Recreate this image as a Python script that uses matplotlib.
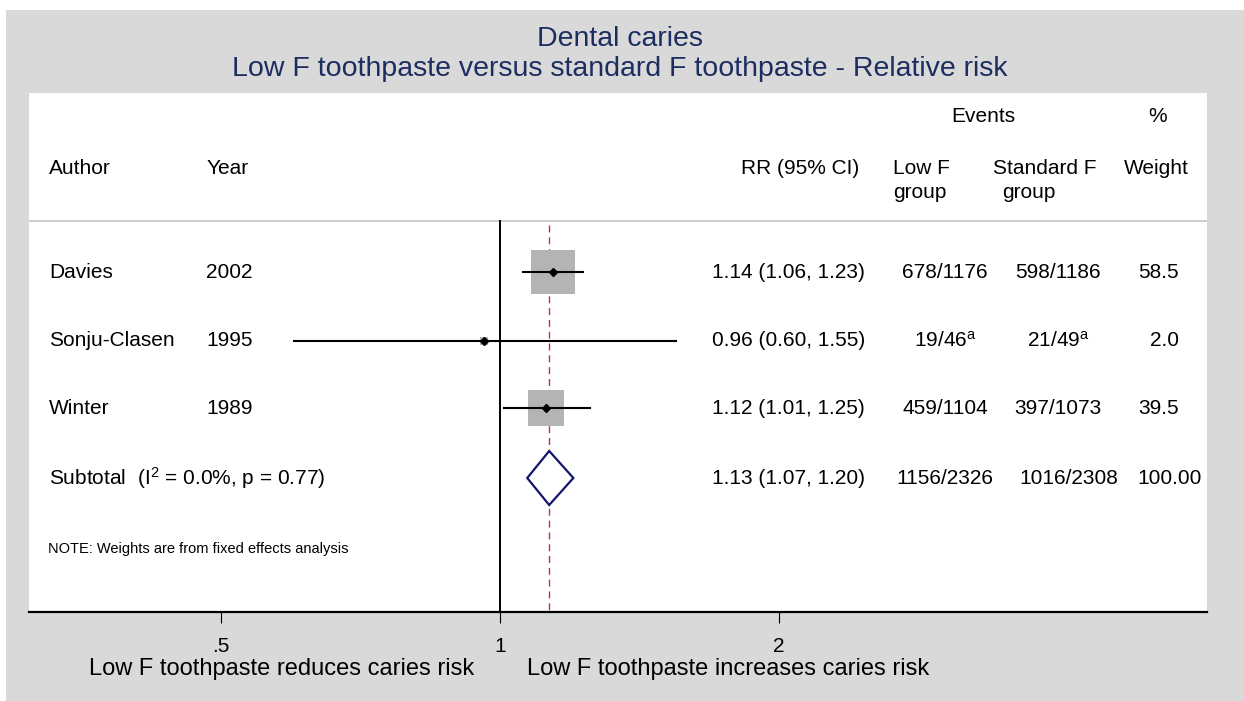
import matplotlib
matplotlib.use("Agg")
import matplotlib.pyplot as plt
import matplotlib.transforms as mtransforms
from matplotlib.patches import Rectangle, Polygon
from matplotlib.ticker import NullLocator, FixedLocator, FixedFormatter
import numpy as np

plt.rcParams["font.family"] = ["Liberation Sans", "DejaVu Sans"]
plt.rcParams["mathtext.fontset"] = "custom"
plt.rcParams["mathtext.rm"] = "Liberation Sans"
plt.rcParams["mathtext.it"] = "Liberation Sans:italic"
plt.rcParams["mathtext.default"] = "regular"

# ---- study data -------------------------------------------------------
authors = ["Davies", "Sonju-Clasen", "Winter"]
years = ["2002", "1995", "1989"]
rr = [1.14, 0.96, 1.12]
ci_low = [1.06, 0.60, 1.01]
ci_high = [1.23, 1.55, 1.25]
events_low = ["678/1176", "19/46$^{a}$", "459/1104"]
events_std = ["598/1186", "21/49$^{a}$", "397/1073"]
weights = [58.5, 2.0, 39.5]

pooled_rr = 1.13
pooled_low = 1.07
pooled_high = 1.20
pooled_events_low = "1156/2326"
pooled_events_std = "1016/2308"
pooled_weight = 100.00
subtotal_label = "Subtotal  (I$^{2}$ = 0.0%, p = 0.77)"

xticks = [0.5, 1, 2]
xtick_labels = [".5", "1", "2"]

title_lines = ["Dental caries",
               "Low F toothpaste versus standard F toothpaste - Relative risk"]
favours = ["Low F toothpaste reduces caries risk",
           "Low F toothpaste increases caries risk"]
note = "NOTE: Weights are from fixed effects analysis"

# ---- layout ------------------------------------------------------------
W, H = 1244, 701
fig = plt.figure(figsize=(W / 100, H / 100), dpi=100, facecolor="white")
fig.patches.append(Rectangle((6 / W, 0), 1 - 6 / W, 1 - 10 / H,
                             transform=fig.transFigure, facecolor="#d9d9d9",
                             edgecolor="none", zorder=-10))

AX_L, AX_R, AX_T, AX_B = 29, 1207, 93, 612
ax = fig.add_axes([AX_L / W, (H - AX_B) / H, (AX_R - AX_L) / W, (AX_B - AX_T) / H])
ax.set_facecolor("white")

# log-scale RR axis: 1 at x=500px, one doubling = 279px
PX1, PXD = 500, 279
def rr_at(px):
    return 2 ** ((px - PX1) / PXD)

ax.set_xscale("log")
ax.set_xlim(rr_at(AX_L), rr_at(AX_R))
ax.set_ylim(AX_B, AX_T)  # rows measured downward

for s in ("top", "left", "right"):
    ax.spines[s].set_visible(False)
ax.spines["bottom"].set_linewidth(1.6)
ax.spines["bottom"].set_color("black")
ax.xaxis.set_major_locator(FixedLocator(xticks))
ax.xaxis.set_major_formatter(FixedFormatter(xtick_labels))
ax.xaxis.set_minor_locator(NullLocator())
ax.tick_params(axis="x", length=8, width=0.8, pad=10, labelsize=15,
               colors="black")
ax.set_yticks([])

def colx(px):
    return (px - AX_L) / (AX_R - AX_L)

tr = mtransforms.blended_transform_factory(ax.transAxes, ax.transData)
FS = 15

# row positions
y_events, y_head, y_group, y_sep = 116, 168, 192, 221
row_y = [272, 341, 408]
y_sub = 478
y_note = 549

# header
ax.text(colx(983), y_events, "Events", transform=tr, ha="center", va="center", fontsize=FS)
ax.text(colx(1158), y_events, "%", transform=tr, ha="center", va="center", fontsize=FS)
ax.text(colx(49), y_head, "Author", transform=tr, ha="left", va="center", fontsize=FS)
ax.text(colx(207), y_head, "Year", transform=tr, ha="left", va="center", fontsize=FS)
ax.text(colx(859), y_head, "RR (95% CI)", transform=tr, ha="right", va="center", fontsize=FS)
ax.text(colx(893), y_head, "Low F", transform=tr, ha="left", va="center", fontsize=FS)
ax.text(colx(893), y_group, "group", transform=tr, ha="left", va="center", fontsize=FS)
ax.text(colx(993), y_head, "Standard F", transform=tr, ha="left", va="center", fontsize=FS)
ax.text(colx(1002), y_group, "group", transform=tr, ha="left", va="center", fontsize=FS)
ax.text(colx(1124), y_head, "Weight", transform=tr, ha="left", va="center", fontsize=FS)
ax.axhline(y_sep, color="#c4c4c4", lw=1.2, zorder=1)

# reference lines
ax.plot([1, 1], [y_sep, AX_B], color="black", lw=1.4, zorder=2, clip_on=False)
ax.plot([pooled_rr, pooled_rr], [y_sep + 4, AX_B], color="#b8334a", lw=1.0,
        dashes=(5, 3.5), zorder=2)

# study rows
MAX_SIDE_PX = 44
for i in range(len(authors)):
    y = row_y[i]
    side_pt = MAX_SIDE_PX * np.sqrt(weights[i] / max(weights)) * 0.72
    ax.scatter([rr[i]], [y], marker="s", s=side_pt ** 2, color="#b4b4b4",
               edgecolors="none", zorder=3)
    ax.plot([ci_low[i], ci_high[i]], [y, y], color="black", lw=1.5, zorder=4)
    ax.plot([rr[i]], [y], marker="D", ms=4, color="black", zorder=5)
    ax.text(colx(49), y, authors[i], transform=tr, ha="left", va="center", fontsize=FS)
    ax.text(colx(206), y, years[i], transform=tr, ha="left", va="center", fontsize=FS)
    ax.text(colx(865), y, f"{rr[i]:.2f} ({ci_low[i]:.2f}, {ci_high[i]:.2f})",
            transform=tr, ha="right", va="center", fontsize=FS)
    ax.text(colx(945), y, events_low[i], transform=tr, ha="center", va="center", fontsize=FS)
    ax.text(colx(1058), y, events_std[i], transform=tr, ha="center", va="center", fontsize=FS)
    ax.text(colx(1179), y, f"{weights[i]:.1f}", transform=tr, ha="right", va="center", fontsize=FS)

# pooled estimate
half_h = 27
diamond = Polygon([(pooled_low, y_sub), (pooled_rr, y_sub - half_h),
                   (pooled_high, y_sub), (pooled_rr, y_sub + half_h)],
                  closed=True, facecolor="white", edgecolor="#14146e", lw=1.6, zorder=4)
ax.add_patch(diamond)
ax.text(colx(49), y_sub, subtotal_label, transform=tr, ha="left", va="center", fontsize=FS)
ax.text(colx(865), y_sub, f"{pooled_rr:.2f} ({pooled_low:.2f}, {pooled_high:.2f})",
        transform=tr, ha="right", va="center", fontsize=FS)
ax.text(colx(945), y_sub, pooled_events_low, transform=tr, ha="center", va="center", fontsize=FS)
ax.text(colx(1069), y_sub, pooled_events_std, transform=tr, ha="center", va="center", fontsize=FS)
ax.text(colx(1202), y_sub, f"{pooled_weight:.2f}", transform=tr, ha="right", va="center", fontsize=FS)

ax.text(colx(48), y_note, note, transform=tr, ha="left", va="center", fontsize=10.5)

# titles and axis captions
TITLE_C = "#1c2d60"
fig.text(620 / W, 1 - 46 / H, title_lines[0], ha="center", va="baseline", fontsize=20.5, color=TITLE_C)
fig.text(620 / W, 1 - 76 / H, title_lines[1], ha="center", va="baseline", fontsize=20.5, color=TITLE_C)
fig.text(282 / W, 1 - 669 / H, favours[0], ha="center", va="center", fontsize=17)
fig.text(728 / W, 1 - 669 / H, favours[1], ha="center", va="center", fontsize=17)

fig.savefig("out.png", dpi=100, facecolor=fig.get_facecolor())
